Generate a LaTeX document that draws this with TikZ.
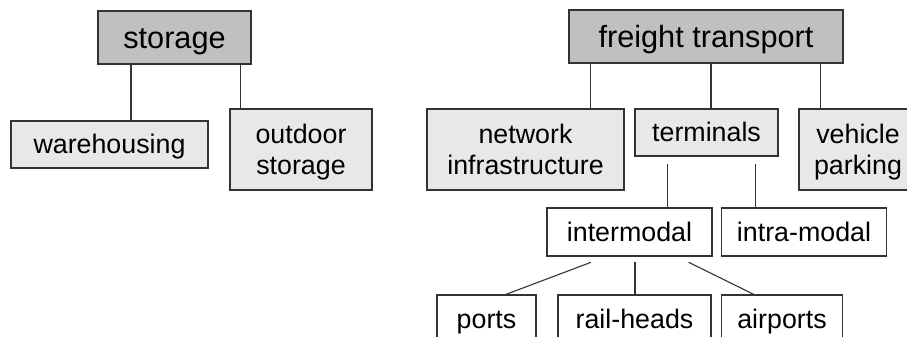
\documentclass[tikz,border=0pt]{standalone}
\usepackage{fontspec}
\setmainfont{Liberation Sans}
\newcommand{\mystrt}{\rule[-0.212em]{0pt}{1.117em}}
\definecolor{hdr}{RGB}{192,192,192}
\definecolor{lite}{RGB}{232,232,232}
\definecolor{edge}{RGB}{51,51,51}
\tikzset{
  boxbase/.style={draw=edge, line width=1.2pt, inner sep=0pt, align=center},
  headbox/.style={boxbase, fill=hdr, font=\fontsize{30.7}{35}\selectfont},
  subbox/.style={boxbase, fill=lite, font=\fontsize{26.8}{31}\selectfont},
  leafbox/.style={boxbase, fill=white, font=\fontsize{26.8}{31}\selectfont},
  link/.style={draw=edge, line width=1.1pt}
}
\begin{document}
\begin{tikzpicture}[x=1pt,y=-1pt]
\useasboundingbox (0,0) rectangle (907,337);
\clip (0,0) rectangle (907,337);
% left tree
\node[headbox, minimum width=153, minimum height=53] (storage) at (174.5,37.5) {\mystrt storage};
\node[subbox, minimum width=197, minimum height=47] (wh) at (109.5,144.5) {\mystrt warehousing};
\node[subbox, minimum width=142, minimum height=81] (out) at (301,149.5) {\mystrt outdoor\\\mystrt storage};
\coordinate (c1) at (131,0);
\coordinate (c2) at (240.7,0);
\draw[link] (storage.south -| c1) -- (wh.north -| c1);
\draw[link] (storage.south -| c2) -- (out.north -| c2);
% right tree
\node[headbox, minimum width=274, minimum height=53] (ft) at (706,36.5) {\mystrt freight transport};
\node[subbox, minimum width=197, minimum height=81] (net) at (525.5,149.5) {\mystrt network\\\mystrt infrastructure};
\node[subbox, minimum width=143, minimum height=47] (term) at (706.5,132.5) {\mystrt terminals};
\node[subbox, minimum width=118, minimum height=81] (veh) at (858,149.5) {\mystrt vehicle\\\mystrt parking};
\coordinate (c3) at (590.7,0);
\coordinate (c4) at (711,0);
\coordinate (c5) at (820.7,0);
\draw[link] (ft.south -| c3) -- (net.north -| c3);
\draw[link] (ft.south -| c4) -- (term.north -| c4);
\draw[link] (ft.south -| c5) -- (veh.north -| c5);
\node[leafbox, minimum width=165, minimum height=48] (inter) at (629.5,232) {\mystrt intermodal};
\node[leafbox, minimum width=165, minimum height=48] (intra) at (804,232) {\mystrt intra-modal};
\coordinate (t1) at (667.7,164);
\coordinate (t2) at (755.3,164);
\draw[link] (t1) -- (inter.north -| t1);
\draw[link] (t2) -- (intra.north -| t2);
\node[leafbox, minimum width=99, minimum height=48] (ports) at (486.5,319) {\mystrt ports};
\node[leafbox, minimum width=153, minimum height=48] (rail) at (634.5,319) {\mystrt rail-heads};
\node[leafbox, minimum width=121, minimum height=48] (air) at (782,319) {\mystrt airports};
\coordinate (p1) at (591,262.3);
\coordinate (p2) at (635,262.3);
\coordinate (p3) at (688.7,262.3);
\coordinate (q1) at (504.3,295);
\coordinate (q3) at (755,295);
\draw[link] (p1) -- (q1);
\draw[link] (p2) -- (rail.north -| p2);
\draw[link] (p3) -- (q3);
\end{tikzpicture}
\end{document}
